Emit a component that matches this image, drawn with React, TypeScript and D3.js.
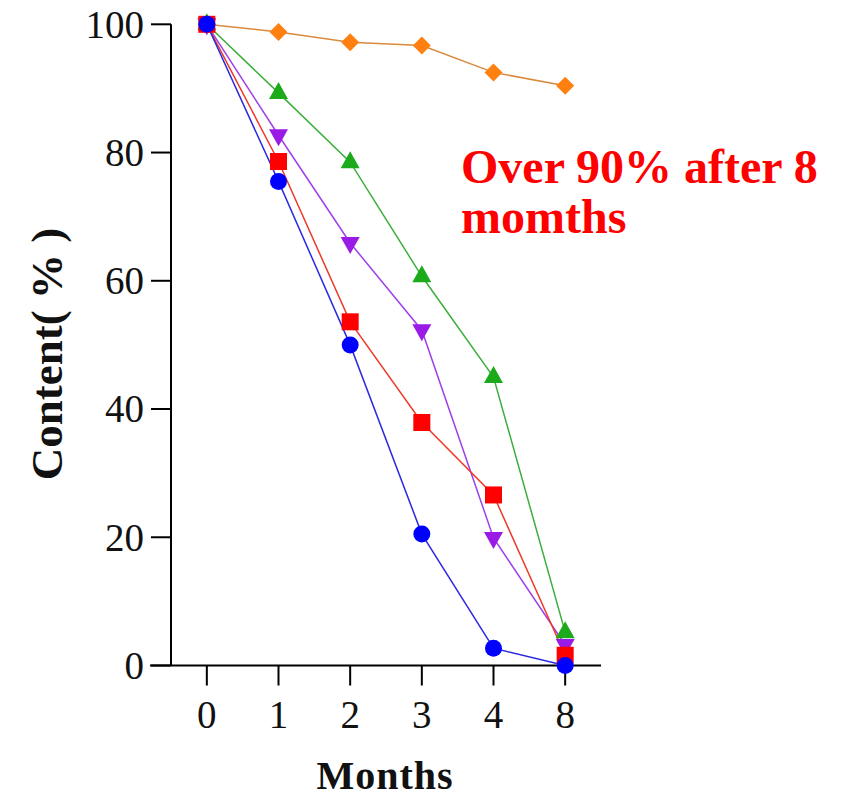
import React from "react";
import * as d3 from "d3";

const months = ["0", "1", "2", "3", "4", "8"];
const yTicks = [0, 20, 40, 60, 80, 100];
const seriesOrange = [100, 98.8, 97.2, 96.7, 92.5, 90.4];
const seriesGreen = [100, 89.3, 78.5, 60.7, 45.0, 5.2];
const seriesPurple = [100, 82.7, 65.9, 52.3, 19.9, 3.2];
const seriesRed = [100, 78.6, 53.6, 37.9, 26.6, 1.6];
const seriesBlue = [100, 75.5, 50.0, 20.5, 2.7, 0];
const annotationLines = ["Over 90% after 8", "momths"];

const W = 846;
const H = 797;
const X0 = 171;
const X1 = 601;
const Y0 = 665.5;
const Y1 = 24.3;

type Shape = "diamond" | "triangle" | "triangleDown" | "square" | "circle";

export default function App() {
  const x = d3.scalePoint<string>().domain(months).range([X0, X1]).padding(0.5);
  const y = d3.scaleLinear().domain([0, 100]).range([Y0, Y1]);
  const line = d3
    .line<number>()
    .x((_, i) => x(months[i]) as number)
    .y((d) => y(d));

  const series: { values: number[]; line: string; fill: string; shape: Shape }[] = [
    { values: seriesOrange, line: "#d98a3c", fill: "#ff8010", shape: "diamond" },
    { values: seriesGreen, line: "#3cae3c", fill: "#1aaa1a", shape: "triangle" },
    { values: seriesPurple, line: "#a040e8", fill: "#9a1ae6", shape: "triangleDown" },
    { values: seriesRed, line: "#ee3a2a", fill: "#ff0000", shape: "square" },
    { values: seriesBlue, line: "#2a2ae0", fill: "#0000ff", shape: "circle" },
  ];

  const marker = (shape: Shape, cx: number, cy: number, fill: string, key: string) => {
    if (shape === "circle") return <circle key={key} cx={cx} cy={cy} r={8.5} fill={fill} />;
    if (shape === "square")
      return <rect key={key} x={cx - 8.5} y={cy - 8.5} width={17} height={17} fill={fill} />;
    if (shape === "diamond")
      return (
        <path key={key} d={`M${cx},${cy - 9}L${cx + 9},${cy}L${cx},${cy + 9}L${cx - 9},${cy}Z`} fill={fill} />
      );
    if (shape === "triangle")
      return (
        <path key={key} d={`M${cx},${cy - 11}L${cx + 9.5},${cy + 6}L${cx - 9.5},${cy + 6}Z`} fill={fill} />
      );
    return (
      <path key={key} d={`M${cx},${cy + 11}L${cx + 9.5},${cy - 6}L${cx - 9.5},${cy - 6}Z`} fill={fill} />
    );
  };

  const serif = "'Times New Roman', 'Liberation Serif', serif";

  return (
    <svg width={W} height={H} style={{ position: "absolute", left: 0, top: 0, background: "#fff" }}>
      <rect width={W} height={H} fill="#fff" />
      <line x1={X0} x2={X0} y1={Y1} y2={Y0} stroke="#000" strokeWidth={2} />
      <line x1={X0 - 21} x2={X1} y1={Y0} y2={Y0} stroke="#000" strokeWidth={2} />
      {yTicks.map((t) => (
        <g key={"yt" + t}>
          <line x1={X0 - 20} x2={X0} y1={y(t)} y2={y(t)} stroke="#000" strokeWidth={2} />
          <text x={X0 - 27} y={y(t)} dy="0.34em" textAnchor="end" fontFamily={serif} fontSize={39} fill="#111">
            {t}
          </text>
        </g>
      ))}
      {months.map((m) => (
        <g key={"xt" + m}>
          <line x1={x(m)} x2={x(m)} y1={Y0} y2={Y0 + 20} stroke="#000" strokeWidth={2} />
          <text x={x(m)} y={728} textAnchor="middle" fontFamily={serif} fontSize={39} fill="#111">
            {m}
          </text>
        </g>
      ))}
      <text x={385} y={789} textAnchor="middle" fontFamily={serif} fontWeight="bold" fontSize={40} letterSpacing={1} fill="#111">
        Months
      </text>
      <text
        transform={`translate(62,354) rotate(-90)`}
        textAnchor="middle"
        fontFamily={serif}
        fontWeight="bold"
        fontSize={45}
        fill="#111"
      >
        Content( % )
      </text>
      {series.map((s, i) => (
        <path key={"l" + i} d={line(s.values) || ""} fill="none" stroke={s.line} strokeWidth={1.5} />
      ))}
      {series.map((s, i) =>
        s.values.map((v, j) => marker(s.shape, x(months[j]) as number, y(v), s.fill, `m${i}-${j}`))
      )}
      {annotationLines.map((t, i) => (
        <text key={"a" + i} x={461} y={183 + i * 50} fontFamily={serif} fontWeight="bold" fontSize={48} fill="#ff0000">
          {t}
        </text>
      ))}
    </svg>
  );
}
